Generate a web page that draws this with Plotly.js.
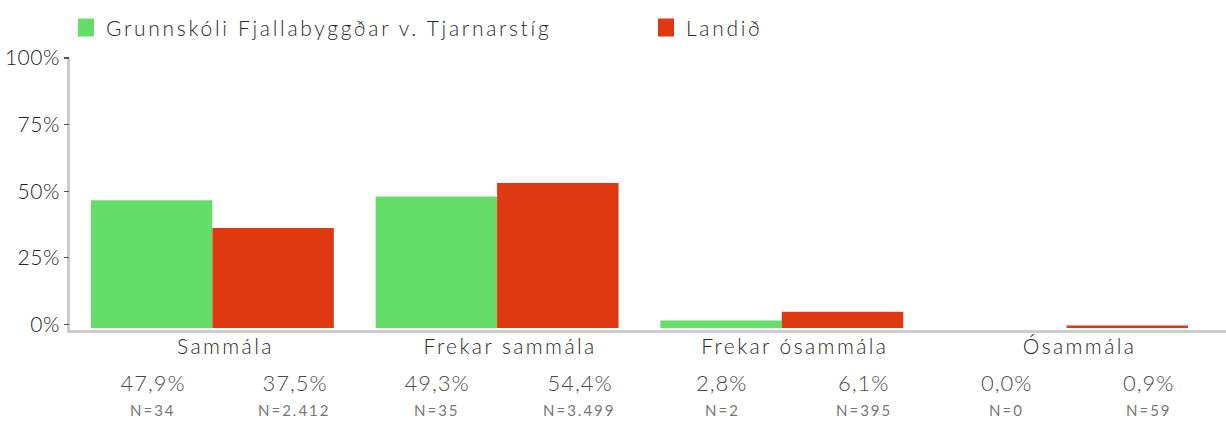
<!DOCTYPE html>
<html>
<head>
<meta charset="utf-8">
<script src="https://cdn.plot.ly/plotly-3.0.1.min.js"></script>
<style>
html,body{margin:0;padding:0;background:#fff;}
#chart{width:1226px;height:421px;}
text.legendtext{letter-spacing:2.7px;}
.xtick text{letter-spacing:2.4px;}
.ytick text, .y2tick text{letter-spacing:0.5px;}
g.pct text.annotation-text{letter-spacing:1px;}
g.cnt text.annotation-text{letter-spacing:2px;}
</style>
</head>
<body>
<div id="chart"></div>
<script>
const categories = ["Sammála", "Frekar sammála", "Frekar ósammála", "Ósammála"];
const schoolName = "Grunnskóli Fjallabyggðar v. Tjarnarstíg";
const countryName = "Landið";
const schoolValues = [47.9, 49.3, 2.8, 0.0];
const countryValues = [37.5, 54.4, 6.1, 0.9];
const schoolLabels = ["47,9%", "49,3%", "2,8%", "0,0%"];
const countryLabels = ["37,5%", "54,4%", "6,1%", "0,9%"];
const schoolN = ["N=34", "N=35", "N=2", "N=0"];
const countryN = ["N=2.412", "N=3.499", "N=395", "N=59"];
const yTickVals = [0, 25, 50, 75, 100];
const yTickText = ["0%", "25%", "50%", "75%", "100%"];

const FONT = "Lato, 'Open Sans', sans-serif";
const green = "#66dc69";
const red = "#df3912";

const traces = [
  {type: "bar", name: schoolName, x: categories, y: schoolValues,
   marker: {color: green}, hoverinfo: "skip"},
  {type: "bar", name: countryName, x: categories, y: countryValues,
   marker: {color: red}, hoverinfo: "skip"},
  // carrier for the percentage tick axis (draws nothing visible)
  {type: "scatter", x: categories, y: yTickVals.slice(0, categories.length), yaxis: "y2",
   mode: "markers", marker: {opacity: 0, size: 1}, showlegend: false, hoverinfo: "skip"}
];

const annotations = [];
const pctFont = {family: FONT, size: 22, color: "#4a4a4a", weight: 300};
const nFont = {family: FONT, size: 15, color: "#777", weight: 400};
// plot area runs from y=58px to y=329.6px (271.6px)
const H = 271.6, B = 329.6;
const py = p => (B - p) / H;
categories.forEach((c, i) => {
  annotations.push({xref: "x", yref: "paper", x: i - 0.21, y: py(382), text: schoolLabels[i], showarrow: false, font: pctFont, yanchor: "middle"});
  annotations.push({xref: "x", yref: "paper", x: i + 0.29, y: py(382), text: countryLabels[i], showarrow: false, font: pctFont, yanchor: "middle"});
  annotations.push({xref: "x", yref: "paper", x: i - 0.21, y: py(420.5), text: schoolN[i], showarrow: false, font: nFont, yanchor: "bottom"});
  annotations.push({xref: "x", yref: "paper", x: i + 0.29, y: py(420.5), text: countryN[i], showarrow: false, font: nFont, yanchor: "bottom"});
});

const layout = {
  width: 1226, height: 421,
  margin: {l: 70, r: 0, t: 58, b: 421 - B},
  paper_bgcolor: "#fff", plot_bgcolor: "#fff",
  font: {family: FONT, color: "#333", weight: 300},
  barmode: "group", bargap: 0.147, bargroupgap: 0,
  showlegend: true,
  legend: {orientation: "h", x: 0, xanchor: "left", y: py(28), yanchor: "middle",
           font: {family: FONT, size: 21, color: "#2a2a2a", weight: 300}, entrywidth: 535, entrywidthmode: "pixels",
           bgcolor: "rgba(0,0,0,0)"},
  xaxis: {type: "category", range: [-0.5, 3.56], showgrid: false, zeroline: false,
          showline: true, linecolor: "#cccccc", linewidth: 3,
          ticks: "", tickfont: {family: FONT, size: 21, color: "#2a2a2a", weight: 300}, ticklabelshift: 13,
          ticklabelstandoff: -4, fixedrange: true},
  yaxis: {range: [-0.79, 101.3], showgrid: false, zeroline: false, showticklabels: false, ticks: "",
          showline: true, linecolor: "#cccccc", linewidth: 3, fixedrange: true},
  yaxis2: {overlaying: "y", side: "left", anchor: "x", range: [-2.1, 100],
           tickvals: yTickVals, ticktext: yTickText, showgrid: false, zeroline: false, showline: false,
           ticks: "outside", ticklen: 5, tickcolor: "#555", tickwidth: 1.2,
           tickfont: {family: FONT, size: 21, color: "#222", weight: 300}, fixedrange: true},
  annotations: annotations
};

Plotly.newPlot("chart", traces, layout, {displayModeBar: false, staticPlot: true}).then(() => {
  document.querySelectorAll("g.annotation").forEach(g => {
    const t = g.querySelector("text.annotation-text");
    if (!t) return;
    g.classList.add(t.textContent.indexOf("%") >= 0 ? "pct" : "cnt");
  });
  // slightly larger legend swatches, as in the reference
  document.querySelectorAll(".legend .legendpoints path").forEach(p => {
    p.setAttribute("d", "M8,9H-8V-9H8Z");
  });
});
</script>
</body>
</html>
